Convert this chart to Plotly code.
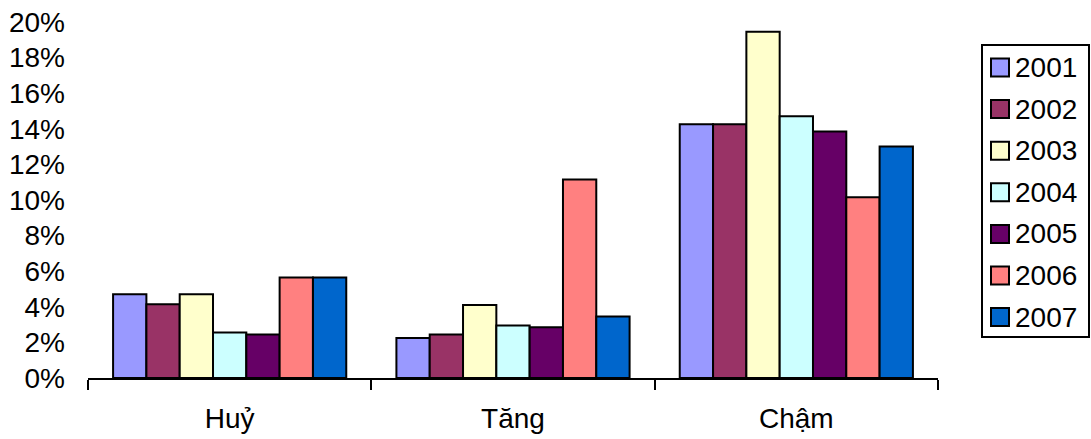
import plotly.graph_objects as go

# Categories and yearly series (percent)
categories = ["Huỷ", "Tăng", "Chậm"]
years = ["2001", "2002", "2003", "2004", "2005", "2006", "2007"]
colors = ["#9999FF", "#993366", "#FFFFCC", "#CCFFFF", "#660066", "#FF8080", "#0066CC"]

s2001 = [4.7, 2.25, 14.25]
s2002 = [4.15, 2.45, 14.25]
s2003 = [4.7, 4.1, 19.45]
s2004 = [2.55, 2.95, 14.7]
s2005 = [2.45, 2.85, 13.85]
s2006 = [5.65, 11.15, 10.15]
s2007 = [5.65, 3.45, 13.0]
series = [s2001, s2002, s2003, s2004, s2005, s2006, s2007]

y_ticks = [0, 2, 4, 6, 8, 10, 12, 14, 16, 18, 20]

W, H = 1091, 439
ML, MR, MT, MB = 88, 153, 22, 61
FONT = "Liberation Sans, Arial, sans-serif"

fig = go.Figure()
for name, vals, col in zip(years, series, colors):
    fig.add_trace(go.Bar(
        x=categories, y=vals, name=name,
        marker=dict(color=col, line=dict(color="black", width=2)),
        showlegend=False,
    ))

# pixel -> paper helpers for the hand-built legend
pw, ph = W - ML - MR, H - MT - MB
def px_x(x):
    return (x - ML) / pw
def px_y(y):
    return (H - MB - y) / ph

shapes = [dict(type="rect", xref="paper", yref="paper",
               x0=px_x(982), x1=px_x(1089), y0=px_y(337), y1=px_y(45),
               line=dict(color="black", width=2), fillcolor="white")]
annotations = []
for i, (name, col) in enumerate(zip(years, colors)):
    cy = 67.5 + i * 41.6
    shapes.append(dict(type="rect", xref="paper", yref="paper",
                       x0=px_x(991), x1=px_x(1009), y0=px_y(cy + 9), y1=px_y(cy - 9),
                       line=dict(color="black", width=2), fillcolor=col))
    annotations.append(dict(xref="paper", yref="paper", x=px_x(1013), y=px_y(cy),
                            xanchor="left", yanchor="middle", text=name, showarrow=False,
                            font=dict(family=FONT, size=28, color="black")))

fig.update_layout(
    width=W, height=H,
    margin=dict(l=ML, r=MR, t=MT, b=MB),
    paper_bgcolor="white", plot_bgcolor="white",
    barmode="group", bargap=0.177, bargroupgap=0,
    font=dict(family=FONT, size=28, color="black"),
    shapes=shapes, annotations=annotations,
    xaxis=dict(
        type="category", showline=True, linecolor="black", linewidth=2,
        ticks="outside", tickson="boundaries", ticklen=10, tickwidth=2, tickcolor="black",
        showgrid=False, tickfont=dict(size=28), ticklabelstandoff=14, automargin=False,
    ),
    yaxis=dict(
        range=[0, 20], tickvals=y_ticks, ticktext=[f"{v}%" for v in y_ticks],
        showgrid=False, zeroline=False, showline=False, ticks="",
        tickfont=dict(size=28), ticklabelstandoff=22, automargin=False,
    ),
)

fig.write_html("out.html")
